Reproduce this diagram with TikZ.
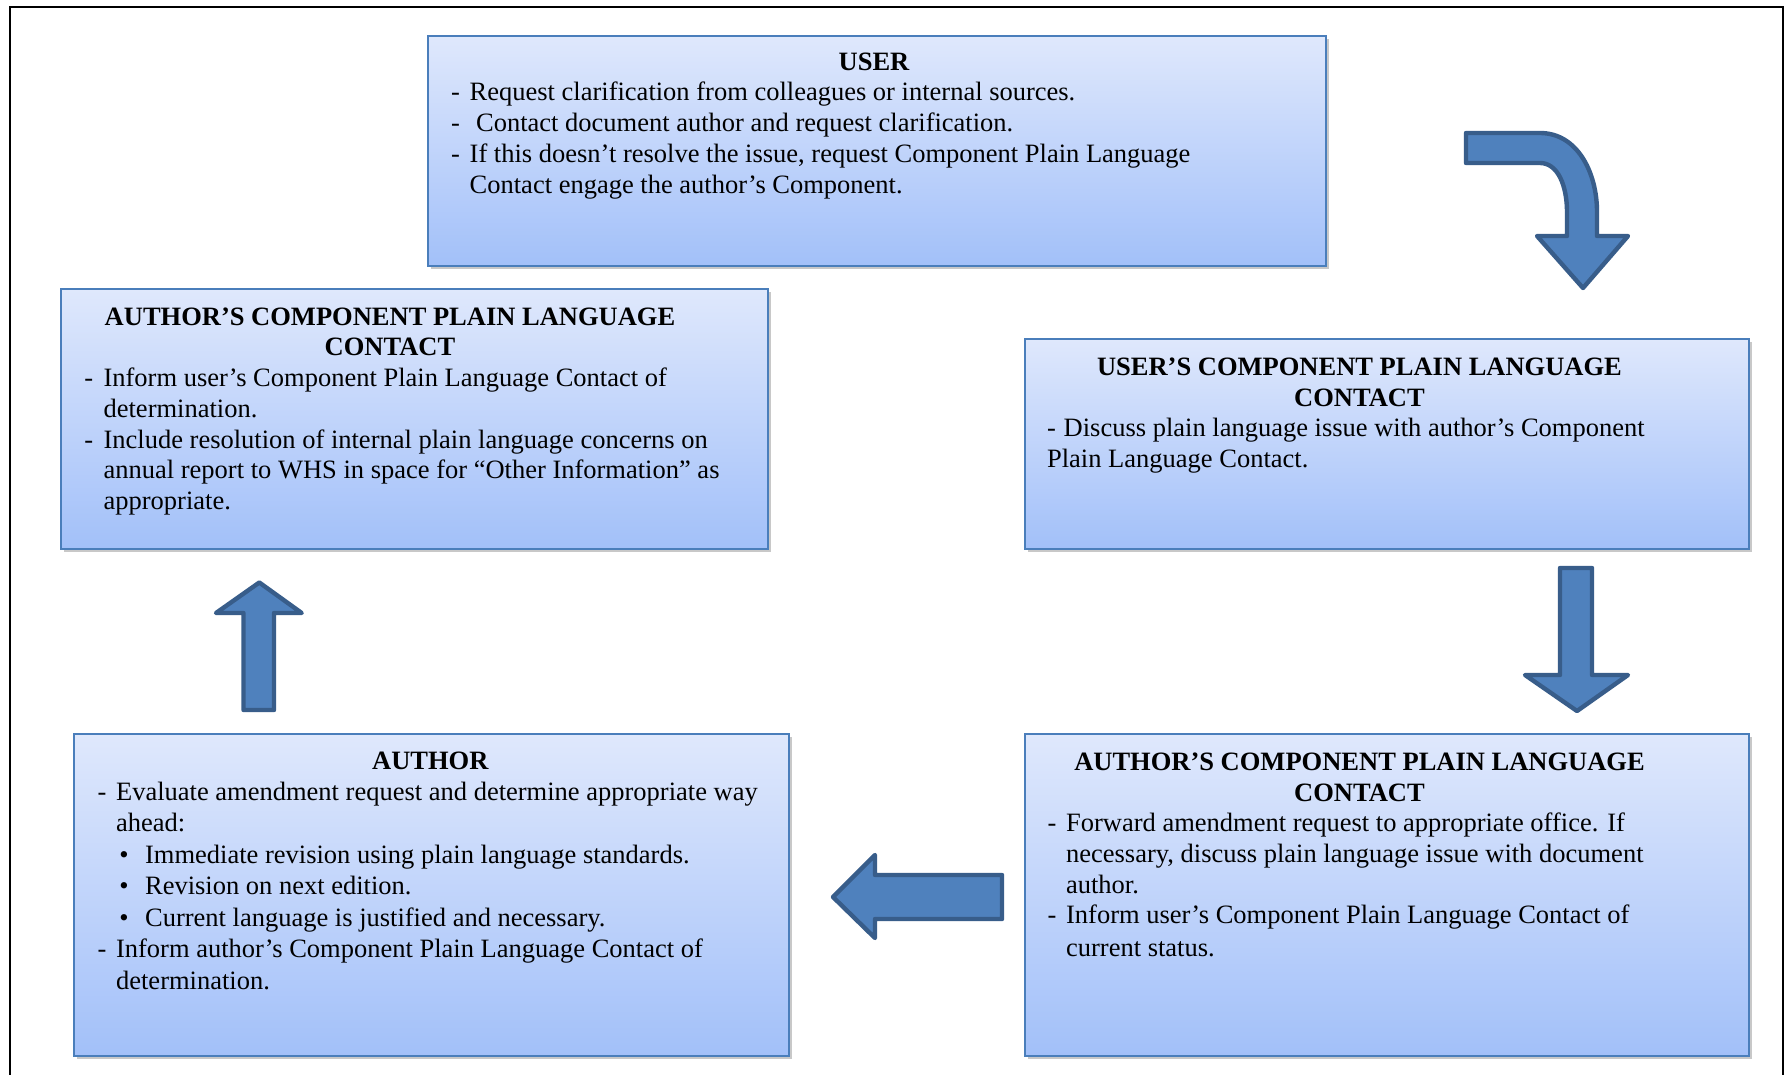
\documentclass[tikz,border=0pt]{standalone}
\usepackage{fontspec}
\setmainfont{Liberation Serif}
\usetikzlibrary{shadows}
\definecolor{boxtop}{RGB}{223,232,252}
\definecolor{boxbot}{RGB}{162,192,249}
\definecolor{boxline}{RGB}{74,126,187}
\definecolor{arrfill}{RGB}{79,129,189}
\definecolor{arrline}{RGB}{56,93,138}
\newlength\dind
\newcommand\dl[1]{\makebox[\dind][l]{-}#1}
\newcommand\cl[1]{\hspace*{\dind}#1}
\newcommand\bl[1]{\hspace*{10.8pt}\makebox[12.9pt][l]{\textbullet}#1}
\tikzset{
 stagebox/.style={draw=boxline, line width=1.1pt, top color=boxtop, bottom color=boxbot,
   anchor=north west, inner sep=0pt,
   drop shadow={shadow xshift=1.5pt, shadow yshift=-1.5pt, opacity=0.3, fill=black!70}},
 boxtitle/.style={anchor=base, inner sep=0pt, font=\fontsize{13.25}{15.35}\selectfont\bfseries},
 boxbody/.style={anchor=base west, inner sep=0pt, font=\fontsize{13.25}{15.35}\selectfont},
 blockarrow/.style={fill=arrfill, draw=arrline, line width=2.2pt, line join=round},
}
\begin{document}
\begin{tikzpicture}[x=0.5pt,y=-0.5pt]
\useasboundingbox (0,0) rectangle (1788,1075);
\fill[white] (0,0) rectangle (1788,1075);
% outer frame
\draw[line width=1pt] (10,1075) -- (10,7) -- (1783,7) -- (1783,1075);

% boxes
\node[stagebox, minimum width=449pt, minimum height=115pt] (user) at (427,35) {};
\node[stagebox, minimum width=353.5pt, minimum height=130pt] (authcplc) at (60,288) {};
\node[stagebox, minimum width=362pt, minimum height=105pt] (usercplc) at (1024,337.5) {};
\node[stagebox, minimum width=362pt, minimum height=160.75pt] (authcplc2) at (1024,733) {};
\node[stagebox, minimum width=357.5pt, minimum height=161pt] (author) at (73,733) {};

% USER
\node[boxtitle] (usert) at (874,71) {\parbox[t]{400pt}{\centering USER}};
\node[boxbody] (userb) at (450.7,101) {\setlength\dind{9.3pt}\parbox[t]{430pt}{\raggedright
\dl{Request clarification from colleagues or internal sources.}\\
\makebox[12.5pt][l]{-}Contact document author and request clarification.\\
\dl{If this doesn’t resolve the issue, request Component Plain Language}\\
\cl{Contact engage the author’s Component.}}};

% AUTHOR'S CPLC (top left)
\node[boxtitle] (authcplct) at (390,325) {\parbox[t]{340pt}{\centering AUTHOR’S COMPONENT PLAIN LANGUAGE\\ CONTACT}};
\node[boxbody] (authcplcb) at (84,386.7) {\setlength\dind{9.6pt}\parbox[t]{340pt}{\raggedright
\dl{Inform user’s Component Plain Language Contact of}\\
\cl{determination.}\\
\dl{Include resolution of internal plain language concerns on}\\
\cl{annual report to WHS in space for “Other Information” as}\\
\cl{appropriate.}}};

% USER'S CPLC (right)
\node[boxtitle] (usercplct) at (1359.5,375.7) {\parbox[t]{340pt}{\centering USER’S COMPONENT PLAIN LANGUAGE\\ CONTACT}};
\node[boxbody] (usercplcb) at (1046.7,436.7) {\setlength\dind{8.3pt}\parbox[t]{340pt}{\raggedright
\dl{Discuss plain language issue with author’s Component}\\
Plain Language Contact.}};

% AUTHOR'S CPLC (bottom right)
\node[boxtitle] (authcplc2t) at (1359.5,770.7) {\parbox[t]{340pt}{\centering AUTHOR’S COMPONENT PLAIN LANGUAGE\\ CONTACT}};
\node[boxbody] (authcplc2b) at (1047.3,831.7) {\setlength\dind{9.2pt}\parbox[t]{340pt}{\raggedright
\dl{Forward amendment request to appropriate office. If}\\
\cl{necessary, discuss plain language issue with document}\\
\cl{author.}\\
\dl{Inform user’s Component Plain Language Contact of}\\[1pt]
\cl{current status.}}};

% AUTHOR
\node[boxtitle] (authort) at (430.3,769) {\parbox[t]{340pt}{\centering AUTHOR}};
\node[boxbody, font=\fontsize{13.25}{15.75}\selectfont] (authorb) at (97.3,800) {\setlength\dind{9.2pt}\parbox[t]{345pt}{\raggedright
\dl{Evaluate amendment request and determine appropriate way}\\
\cl{ahead:}\\
\bl{Immediate revision using plain language standards.}\\
\bl{Revision on next edition.}\\
\bl{Current language is justified and necessary.}\\
\dl{Inform author’s Component Plain Language Contact of}\\
\cl{determination.}}};

% block arrows
% curved arrow (user -> user's CPLC)
\draw[blockarrow] (1466,133) -- (1540,133)
  .. controls (1577,133) and (1597,172) .. (1597,212) -- (1597,236)
  -- (1628,236) -- (1583,288) -- (1537,236) -- (1567,236) -- (1567,212)
  .. controls (1567,186) and (1558,163) .. (1540,163) -- (1466,163) -- cycle;
% down arrow
\draw[blockarrow] (1560,568) -- (1592,568) -- (1592,675) -- (1628,675)
  -- (1577,711) -- (1525,675) -- (1560,675) -- cycle;
% left arrow
\draw[blockarrow] (1002,875) -- (875,875) -- (875,855) -- (833,897)
  -- (875,938) -- (875,919) -- (1002,919) -- cycle;
% up arrow
\draw[blockarrow] (243.5,710) -- (243.5,613) -- (216,613) -- (259.3,582.5)
  -- (301.7,613) -- (274,613) -- (274,710) -- cycle;
\end{tikzpicture}
\end{document}
